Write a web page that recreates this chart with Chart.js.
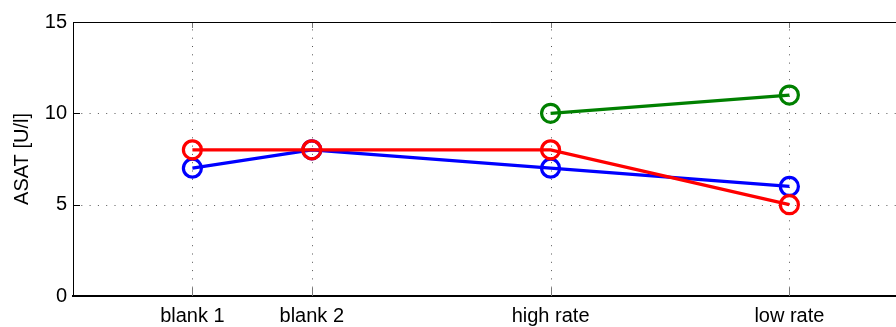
<!DOCTYPE html>
<html>
<head>
<meta charset="utf-8">
<script src="https://cdn.jsdelivr.net/npm/chart.js@4.4.1/dist/chart.umd.min.js"></script>
<style>
  html, body { margin: 0; padding: 0; background: #fff; overflow: hidden; }
  #wrap { position: absolute; left: 0; top: 0; width: 921px; height: 327px; }
</style>
</head>
<body>
<div id="wrap"><canvas id="chart" width="921" height="327"></canvas></div>
<script>
const categories = ['blank 1', 'blank 2', 'high rate', 'low rate'];
const xPositions = [1, 2, 4, 6];
const blueValues = [7, 8, 7, 6];
const redValues = [8, 8, 8, 5];
const greenValues = [null, null, 10, 11];
const yTicks = [0, 5, 10, 15];

const FONT = "'Liberation Sans', Arial, Helvetica, sans-serif";

const toPoints = (values) => xPositions.map((x, i) => ({ x, y: values[i] }));

// dotted grid, inward tick marks and top border, drawn from the scales
const matlabAxes = {
  id: 'matlabAxes',
  beforeDatasetsDraw(chart) {
    const { ctx, chartArea, scales } = chart;
    const { left, right, top, bottom } = chartArea;
    ctx.save();
    ctx.lineWidth = 1;
    ctx.strokeStyle = '#555';
    ctx.setLineDash([1, 7.3]);
    xPositions.forEach((v) => {
      const px = Math.round(scales.x.getPixelForValue(v)) + 0.5;
      ctx.beginPath();
      ctx.moveTo(px, bottom);
      ctx.lineTo(px, top);
      ctx.stroke();
    });
    yTicks.slice(1, -1).forEach((v) => {
      const py = Math.round(scales.y.getPixelForValue(v)) + 0.5;
      ctx.beginPath();
      ctx.moveTo(left, py);
      ctx.lineTo(right, py);
      ctx.stroke();
    });
    ctx.setLineDash([]);

    ctx.strokeStyle = '#777';
    xPositions.forEach((v) => {
      const px = Math.round(scales.x.getPixelForValue(v)) + 0.5;
      ctx.beginPath();
      ctx.moveTo(px, bottom);
      ctx.lineTo(px, bottom - 8);
      ctx.moveTo(px, top);
      ctx.lineTo(px, top + 6);
      ctx.stroke();
    });
    ctx.strokeStyle = '#000';
    yTicks.forEach((v) => {
      const py = Math.round(scales.y.getPixelForValue(v)) + 0.5;
      ctx.beginPath();
      ctx.moveTo(left, py);
      ctx.lineTo(left + 7, py);
      ctx.stroke();
    });

    ctx.beginPath();
    ctx.moveTo(left, Math.round(top) + 0.5);
    ctx.lineTo(right, Math.round(top) + 0.5);
    ctx.stroke();
    ctx.restore();
  },
};

new Chart(document.getElementById('chart'), {
  type: 'line',
  data: {
    datasets: [
      {
        label: 'blue',
        data: toPoints(blueValues),
        borderColor: '#0000ff',
        order: 2,
      },
      {
        label: 'red',
        data: toPoints(redValues),
        borderColor: '#ff0000',
        order: 0,
      },
      {
        label: 'green',
        data: toPoints(greenValues),
        borderColor: '#008000',
        order: 1,
      },
    ],
  },
  options: {
    responsive: false,
    animation: false,
    events: [],
    layout: { padding: { top: 22, left: 0, right: 3, bottom: 0 } },
    elements: {
      line: { borderWidth: 3.3, tension: 0, fill: false },
      point: {
        radius: 9,
        borderWidth: 3.2,
        backgroundColor: 'rgba(0,0,0,0)',
      },
    },
    datasets: {
      line: {
        pointBorderColor: (ctx) => ctx.dataset.borderColor,
        pointBackgroundColor: 'rgba(0,0,0,0)',
      },
    },
    plugins: {
      legend: { display: false },
      tooltip: { enabled: false },
    },
    scales: {
      x: {
        type: 'linear',
        min: 0,
        max: 7,
        grid: { display: false, drawTicks: false },
        border: { display: true, color: '#000', width: 2 },
        afterFit(scale) {
          scale.height = 31;
          scale.paddingLeft = 0;
          scale.paddingRight = 0;
        },
        afterBuildTicks(scale) {
          scale.ticks = xPositions.map((v) => ({ value: v }));
        },
        ticks: {
          autoSkip: false,
          maxRotation: 0,
          padding: 8,
          color: '#000',
          font: { family: FONT, size: 20 },
          callback: (value) => categories[xPositions.indexOf(value)] ?? '',
        },
      },
      y: {
        min: 0,
        max: 15,
        grid: { display: false, drawTicks: false },
        border: { display: true, color: '#000', width: 1 },
        afterFit(scale) { scale.width = 73; },
        afterBuildTicks(scale) {
          scale.ticks = yTicks.map((v) => ({ value: v }));
        },
        ticks: {
          padding: 6,
          color: '#000',
          font: { family: FONT, size: 20 },
        },
        title: {
          display: true,
          text: 'ASAT [U/l]',
          color: '#000',
          padding: { top: 10, bottom: 0 },
          font: { family: FONT, size: 20 },
        },
      },
    },
  },
  plugins: [matlabAxes],
});
</script>
</body>
</html>
